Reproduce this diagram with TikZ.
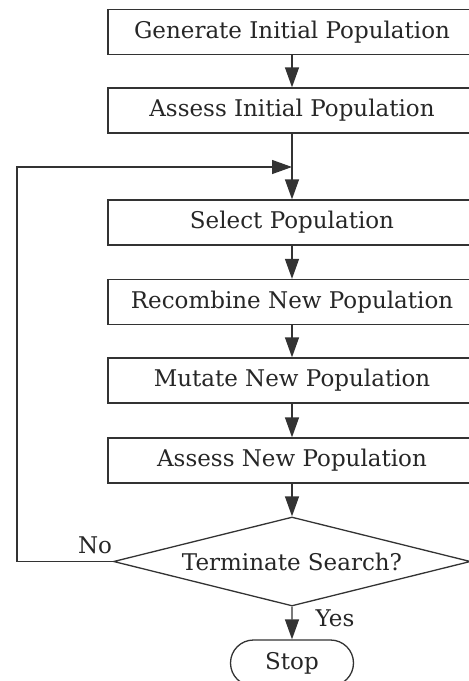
\documentclass[tikz,border=0pt]{standalone}
\usepackage{fontspec}
\setmainfont{DejaVu Serif}
\usetikzlibrary{arrows.meta,shapes.geometric,shapes.misc}

\begin{document}
\begin{tikzpicture}[x=1pt,y=-1pt,
    every node/.style={text=black!85,font=\fontsize{23}{26}\selectfont},
    box/.style={draw=black!80,line width=1.3pt,minimum width=368pt,minimum height=45pt,inner sep=0pt},
    decide/.style={diamond,draw=black!80,line width=1.3pt,aspect=4,inner sep=0pt,minimum width=357pt,minimum height=89pt},
    stopbox/.style={rounded rectangle,draw=black!80,line width=1.3pt,minimum width=123pt,minimum height=46pt,inner sep=0pt},
    arr/.style={draw=black!80,line width=1.3pt,-{Triangle[length=20pt,width=14pt]}}]
  \useasboundingbox (0,0) rectangle (469,681);
  % process boxes
  \node[box] (gen)  at (292,32)    {Generate Initial Population};
  \node[box] (assI) at (292,110.5) {Assess Initial Population};
  \node[box] (sel)  at (292,222.5) {Select Population};
  \node[box] (rec)  at (292,302)   {Recombine New Population};
  \node[box] (mut)  at (292,380.5) {Mutate New Population};
  \node[box] (assN) at (292,460.5) {Assess New Population};
  \node[decide] (term) at (292,561.5) {Terminate Search?};
  \node[stopbox] (stop) at (292,663) {Stop};
  \coordinate (join) at (292,167);
  % flow
  \draw[arr] (gen) -- (assI);
  \draw[arr] (assI) -- (sel);
  \draw[arr] (sel) -- (rec);
  \draw[arr] (rec) -- (mut);
  \draw[arr] (mut) -- (assN);
  \draw[arr] (assN) -- (term);
  \draw[arr] (term) -- (stop);
  \draw[arr] (term.west) -- ++(-96,0) |- (join);
  \node (no)  at (95,545) {No};
  \node (yes) at (335,618) {Yes};
\end{tikzpicture}
\end{document}
